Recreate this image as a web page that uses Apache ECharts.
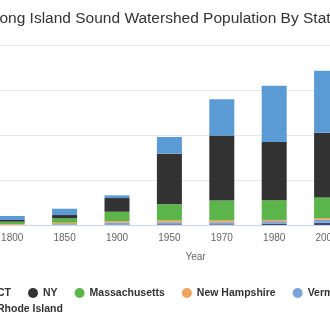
<!DOCTYPE html>
<html>
<head>
<meta charset="utf-8">
<script src="https://cdn.jsdelivr.net/npm/echarts@6/dist/echarts.min.js"></script>
<style>html,body{margin:0;padding:0;background:#fff}#c{width:330px;height:330px}</style>
</head>
<body>
<div id="c"></div>
<script>
const years = ['1800','1850','1900','1950','1970','1980','2000','2010'];
// population, thousands
const ct = [178, 280, 120, 738, 1613, 2502, 2756, null];
const ny = [76, 147, 609, 2253, 2889, 2591, 2876, null];
const ma = [102, 196, 413, 711, 876, 876, 916, null];
const nh = [35, 60, 67, 89, 89, 58, 76, null];
const vt = [10, 30, 89, 89, 89, 107, 133, null];
const ri = [0, 10, 20, 30, 30, 60, 100, null];
const yTicks = [0, 2000, 4000, 6000, 8000];

const FONT = 'Liberation Sans, Arial, sans-serif';
const chart = echarts.init(document.getElementById('c'), null, {renderer: 'canvas'});
const mk = (name, data, color) => ({
  name, type: 'bar', stack: 'pop', data, barWidth: 25,
  itemStyle: {color}, emphasis: {disabled: true}
});
const legendCommon = {
  orient: 'horizontal', icon: 'circle', itemWidth: 10, itemHeight: 10, itemGap: 17,
  textStyle: {fontFamily: FONT, fontSize: 10.5, fontWeight: 'bold', color: '#333', lineHeight: 14}
};
chart.setOption({
  animation: false,
  title: {
    text: 'Long Island Sound Watershed Population By State',
    left: 'center', top: 6,
    textStyle: {fontFamily: FONT, fontSize: 15.5, fontWeight: 'normal', color: '#333'}
  },
  legend: [
    Object.assign({left: -23, top: 281, width: 420, data: ['CT','NY','Massachusetts','New Hampshire','Vermont']}, legendCommon),
    Object.assign({left: -23, top: 297, data: ['Rhode Island']}, legendCommon)
  ],
  grid: {left: -14, right: -75.2, top: 45, bottom: 105, containLabel: false, outerBoundsMode: 'none'},
  xAxis: {
    type: 'category', data: years,
    name: 'Year', nameLocation: 'middle', nameGap: 27,
    nameTextStyle: {fontFamily: FONT, fontSize: 10, color: '#666'},
    axisLine: {lineStyle: {color: '#ccd6eb'}},
    axisTick: {length: 7, lineStyle: {color: '#ccd6eb'}},
    axisLabel: {fontFamily: FONT, fontSize: 10, color: '#666', margin: 8}
  },
  yAxis: {
    type: 'value', min: yTicks[0], max: yTicks[yTicks.length-1], interval: yTicks[1]-yTicks[0],
    axisLabel: {show: false}, axisLine: {show: false}, axisTick: {show: false},
    splitLine: {lineStyle: {color: '#e6e6e6'}}
  },
  series: [
    mk('Rhode Island', ri, '#3b4a76'),
    mk('Vermont', vt, '#7aa3d8'),
    mk('New Hampshire', nh, '#f0a35e'),
    mk('Massachusetts', ma, '#5cb54a'),
    mk('NY', ny, '#323232'),
    mk('CT', ct, '#5b9bd5')
  ]
});
</script>
</body>
</html>
